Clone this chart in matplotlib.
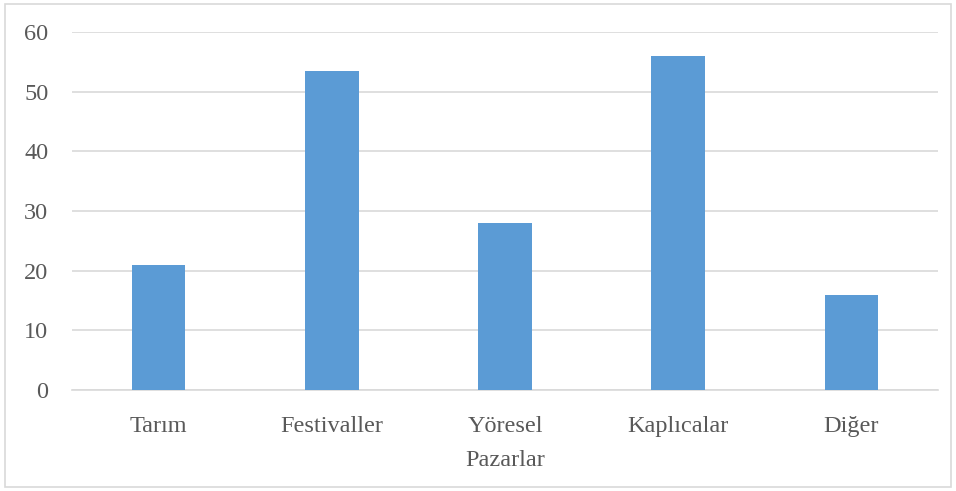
import matplotlib
matplotlib.use('Agg')
import matplotlib.pyplot as plt
from matplotlib.patches import Rectangle

categories = ["Tarım", "Festivaller", "Yöresel\nPazarlar", "Kaplıcalar", "Diğer"]
values = [21, 53.5, 28, 56, 16]
yticks = [0, 10, 20, 30, 40, 50, 60]

plt.rcParams['font.family'] = ['Liberation Serif', 'DejaVu Serif']

fig = plt.figure(figsize=(9.56, 4.91), dpi=100)
ax = fig.add_axes([72 / 956, 1 - 390 / 491, (938 - 72) / 956, (390 - 32) / 491])

x = range(len(categories))
ax.bar(x, values, width=0.31, color='#5B9BD5', zorder=3)

ax.set_xlim(-0.5, len(categories) - 0.5)
ax.set_ylim(0, 60)
ax.set_yticks(yticks)
ax.set_xticks(list(x))
ax.set_xticklabels(categories, linespacing=1.78)
ax.yaxis.grid(True, color='#D9D9D9', linewidth=1.2, zorder=0)
ax.tick_params(axis='both', length=0, labelsize=17.5, labelcolor='#595959')
ax.tick_params(axis='x', pad=19)
ax.tick_params(axis='y', pad=17)
for side in ['top', 'right', 'left']:
    ax.spines[side].set_visible(False)
ax.spines['bottom'].set_color('#D9D9D9')
ax.spines['bottom'].set_linewidth(1.2)

# outer chart border
fig.patches.append(Rectangle((5 / 956, 4 / 491), 946 / 956, 483 / 491,
                             transform=fig.transFigure, fill=False,
                             edgecolor='#D9D9D9', linewidth=1.2))

fig.savefig('out.png', dpi=100)
